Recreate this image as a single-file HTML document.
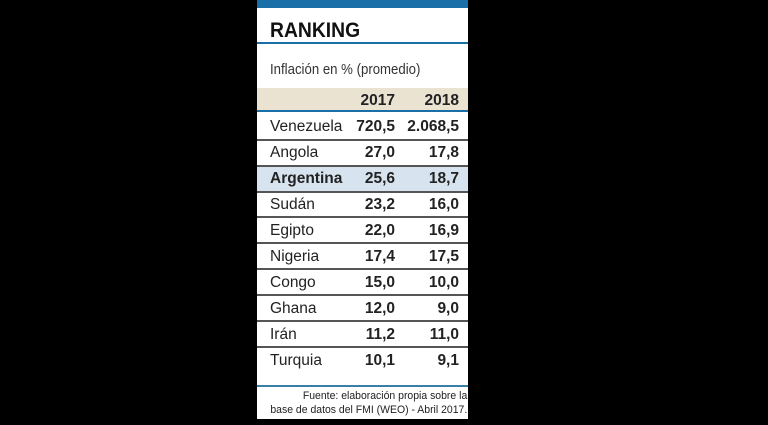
<!DOCTYPE html>
<html><head><meta charset="utf-8"><style>
body{margin:0;width:768px;height:425px;background:#000;overflow:hidden;font-family:"Liberation Sans",sans-serif;}
#p{position:absolute;left:257px;top:0;width:211px;height:419px;background:#fff;}
.a{position:absolute;}
.row{position:absolute;left:0;width:211px;height:25px;font-size:15.5px;color:#222;}
.row span{position:absolute;top:5px;}
.n{left:13px;}
.c1{right:73px;font-weight:bold;}
.c2{right:9px;font-weight:bold;}
.sep{position:absolute;left:0;width:211px;height:2px;background:#555;}
</style></head><body>
<div id="p">
<div class="a" style="left:0;top:0;width:211px;height:8px;background:#1b6fa8"></div>
<div class="a" style="left:13px;top:19px;font-size:21px;font-weight:bold;color:#111;transform:scaleX(0.92);transform-origin:left">RANKING</div>
<div class="a" style="left:0;top:42px;width:211px;height:2px;background:#1b6fa8"></div>
<div class="a" style="left:13px;top:61px;font-size:15px;color:#333;transform:scaleX(0.88);transform-origin:left;white-space:nowrap">Inflación en % (promedio)</div>
<div class="a" style="left:0;top:88px;width:211px;height:22px;background:#ebe3d2"></div>
<div class="a" style="left:0;top:110px;width:211px;height:2px;background:#1b6fa8"></div>
<div class="row" style="top:87px"><span class="c1">2017</span><span class="c2">2018</span></div>
<div class="a" style="left:0;top:166px;width:211px;height:25px;background:#d7e4ef"></div>
<div class="row" style="top:113px"><span class="n">Venezuela</span><span class="c1">720,5</span><span class="c2">2.068,5</span></div>
<div class="sep" style="top:139px"></div>
<div class="row" style="top:139px"><span class="n">Angola</span><span class="c1">27,0</span><span class="c2">17,8</span></div>
<div class="sep" style="top:165px"></div>
<div class="row" style="top:165px"><span class="n" style="font-weight:bold">Argentina</span><span class="c1">25,6</span><span class="c2">18,7</span></div>
<div class="sep" style="top:191px"></div>
<div class="row" style="top:191px"><span class="n">Sudán</span><span class="c1">23,2</span><span class="c2">16,0</span></div>
<div class="sep" style="top:216px"></div>
<div class="row" style="top:217px"><span class="n">Egipto</span><span class="c1">22,0</span><span class="c2">16,9</span></div>
<div class="sep" style="top:242px"></div>
<div class="row" style="top:243px"><span class="n">Nigeria</span><span class="c1">17,4</span><span class="c2">17,5</span></div>
<div class="sep" style="top:268px"></div>
<div class="row" style="top:269px"><span class="n">Congo</span><span class="c1">15,0</span><span class="c2">10,0</span></div>
<div class="sep" style="top:294px"></div>
<div class="row" style="top:295px"><span class="n">Ghana</span><span class="c1">12,0</span><span class="c2">9,0</span></div>
<div class="sep" style="top:320px"></div>
<div class="row" style="top:321px"><span class="n">Irán</span><span class="c1">11,2</span><span class="c2">11,0</span></div>
<div class="sep" style="top:346px"></div>
<div class="row" style="top:347px"><span class="n">Turquia</span><span class="c1">10,1</span><span class="c2">9,1</span></div>
<div class="a" style="left:0;top:385px;width:211px;height:2px;background:#3a7fa8"></div>
<div class="a" style="right:1px;top:389px;font-size:11px;color:#222;text-align:right;line-height:14px;white-space:nowrap;transform:scaleX(0.95);transform-origin:right">Fuente: elaboración propia sobre la<br>base de datos del FMI (WEO) - Abril 2017.</div>
</div>
</body></html>
